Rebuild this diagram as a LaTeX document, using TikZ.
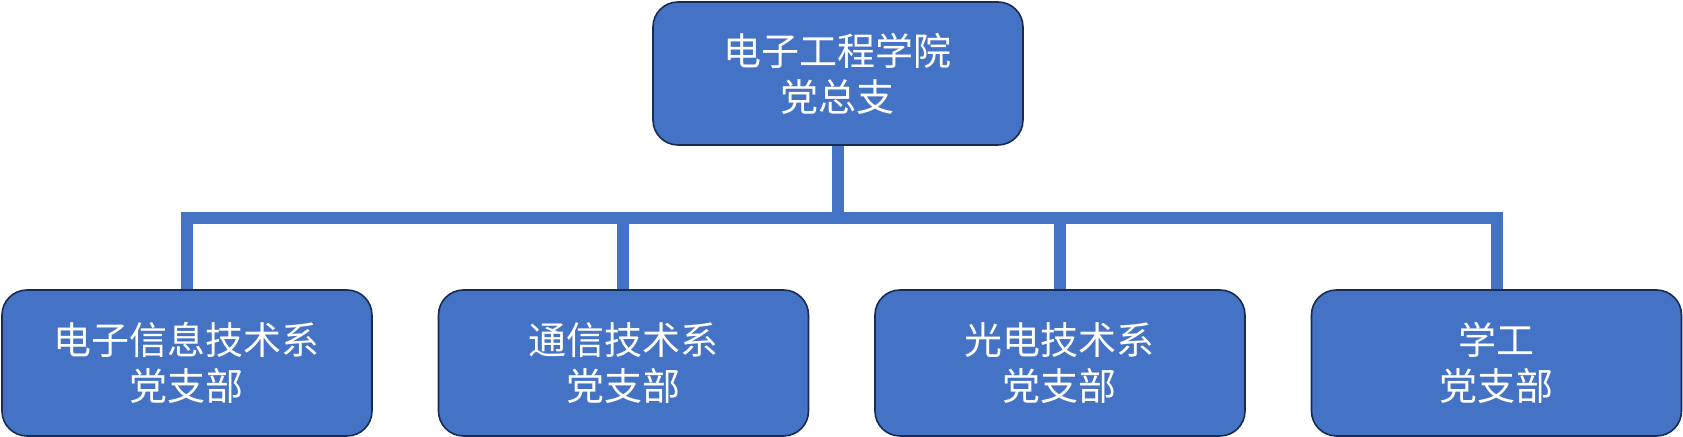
\documentclass[tikz,border=0pt]{standalone}
\usepackage{fontspec}
\usepackage{tikz}
\newfontfamily\cjk{Noto Sans CJK SC}
\definecolor{boxblue}{HTML}{4472C4}
\definecolor{boxline}{HTML}{172C51}

\begin{document}
\begin{tikzpicture}[node distance=144.75pt]
	\tikzstyle{unit} = [rectangle, rounded corners=12.5pt, minimum width=185pt, 
	minimum height=73pt, align=center, text=white, font=\cjk\fontsize{19pt}{23pt}\selectfont, 
	draw=boxline, line width=0.8pt, fill=boxblue]
	\tikzstyle{link} = [boxblue, line width=6pt]
	\useasboundingbox (-419pt,36.75pt) rectangle (422.5pt,-181.75pt);
	\node (school) [unit, minimum height=71.5pt] {电子工程学院\\党总支};
	\node (dianxin) [unit, below of=school, xshift=-325.5pt] {电子信息技术系\\党支部};
	\node (tongxin) [unit, below of=school, xshift=-107.25pt] {通信技术系\\党支部};
	\node (guangdian) [unit, below of=school, xshift=111pt] {光电技术系\\党支部};
	\node (xuegong) [unit, below of=school, xshift=329.25pt] {学工\\党支部};
	\draw [link] (school.south) -- ++(0,-36.25pt) -| (dianxin.north);
	\draw [link] (school.south) -- ++(0,-36.25pt) -| (tongxin.north);
	\draw [link] (school.south) -- ++(0,-36.25pt) -| (guangdian.north);
	\draw [link] (school.south) -- ++(0,-36.25pt) -| (xuegong.north);
\end{tikzpicture}
\end{document}
